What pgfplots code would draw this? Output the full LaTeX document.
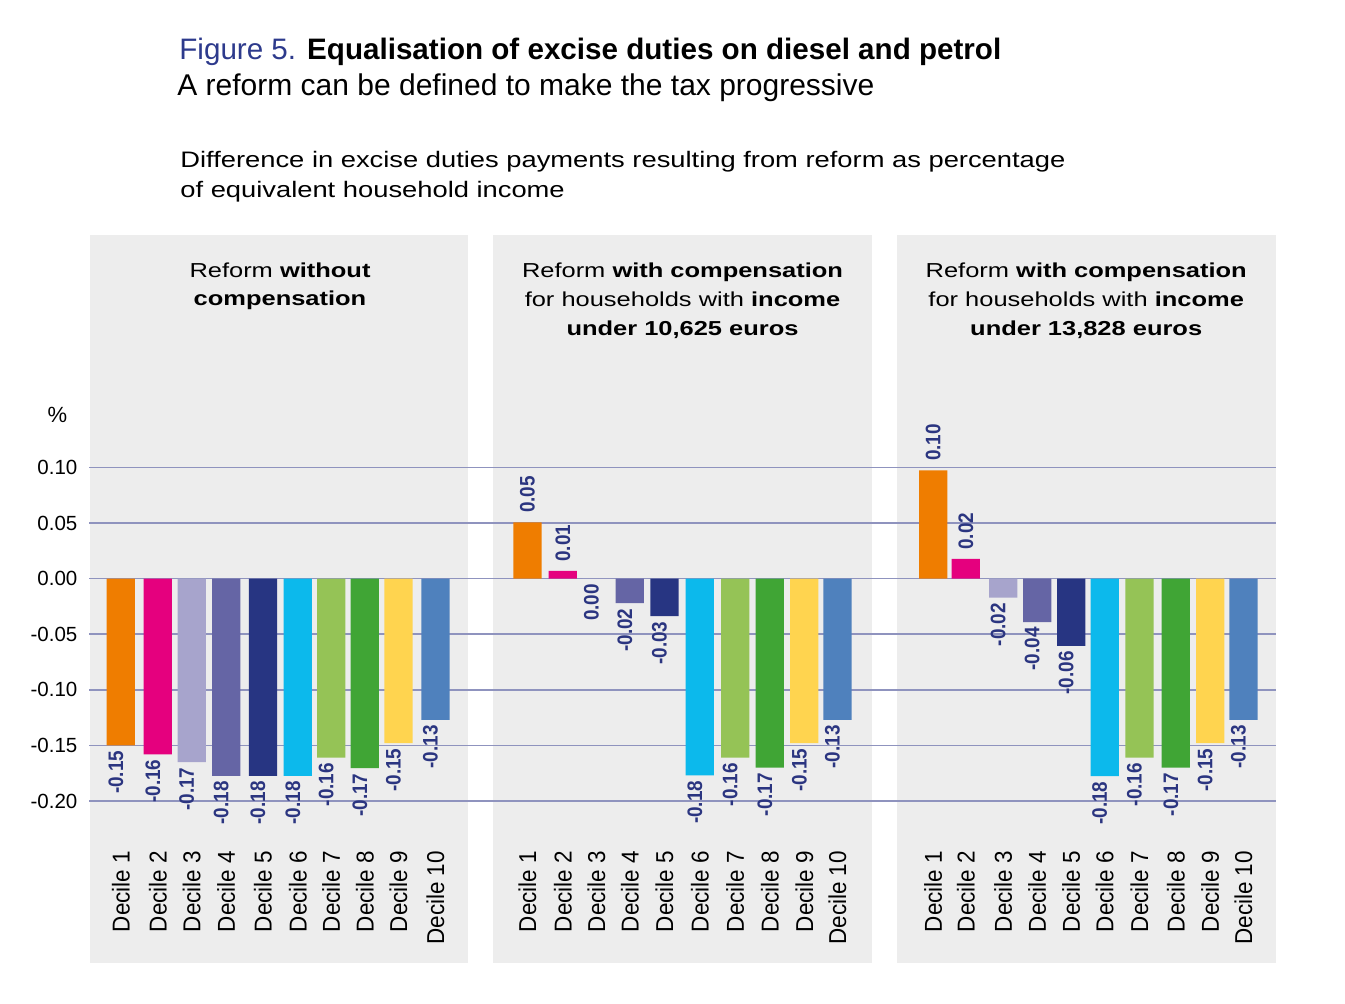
\documentclass[border=0pt]{standalone}
\usepackage{fontspec}
\setmainfont{Liberation Sans}
\newfontfamily\descfont[FakeStretch=1.22]{Liberation Sans}
\newfontfamily\panelfont[FakeStretch=1.26]{Liberation Sans}
\newfontfamily\decfont[FakeStretch=0.92]{Liberation Sans}
\newfontfamily\valfont[FakeStretch=0.9]{Liberation Sans}
\usepackage{pgfplots}
\pgfplotsset{compat=1.18}
\definecolor{panelgrey}{HTML}{EDEDED}
\definecolor{gridcol}{HTML}{8F93BE}
\definecolor{figblue}{HTML}{2D3A8C}
\definecolor{labblue}{HTML}{2B3580}
\definecolor{cA}{HTML}{EF7D00}
\definecolor{cB}{HTML}{E5007E}
\definecolor{cC}{HTML}{A7A4CC}
\definecolor{cD}{HTML}{6565A5}
\definecolor{cE}{HTML}{273582}
\definecolor{cF}{HTML}{0CB9EC}
\definecolor{cG}{HTML}{95C356}
\definecolor{cH}{HTML}{40A535}
\definecolor{cI}{HTML}{FFD44F}
\definecolor{cJ}{HTML}{4F81BD}
\begin{document}
\begin{tikzpicture}
\begin{scope}[x=0.5pt,y=-0.5pt]
\path[use as bounding box] (0,0) rectangle (1345,1004);
\fill[panelgrey] (90,235) rectangle (467.7,963);
\fill[panelgrey] (493.3,235) rectangle (871.7,963);
\fill[panelgrey] (896.7,235) rectangle (1275.7,963);
\coordinate (sw) at (89,801);
\end{scope}
\begin{axis}[
  at={(sw)}, anchor=south west,
  x=0.5pt, y=555.85pt,
  xmin=89, xmax=1276, ymin=-0.2, ymax=0.1,
  enlargelimits=false, clip=false,
  axis line style={draw=none},
  major tick length=0pt,
  ybar, bar width=28.3, bar shift=0pt,
  ymajorgrids, grid style={gridcol, line width=0.75pt},
  ytick={-0.2,-0.15,-0.1,-0.05,0,0.05,0.1},
  yticklabel style={font=\fontsize{10.25}{12}\selectfont, xshift=-2.3pt},
  /pgf/number format/.cd, fixed, fixed zerofill, precision=2, assume math mode=true,
  /pgfplots/.cd,
  xtick={120.8,157.8,191.7,226.2,263,297.8,331.2,364.8,398.5,435.5,
         527.5,562.8,596.5,629.8,664.5,699.8,735.2,769.8,804.3,837.5,
         933.2,965.8,1003.2,1037.2,1071.2,1104.7,1139.5,1175.8,1210.2,1243.5},
  xticklabels={Decile 1,Decile 2,Decile 3,Decile 4,Decile 5,Decile 6,Decile 7,Decile 8,Decile 9,Decile 10,
               Decile 1,Decile 2,Decile 3,Decile 4,Decile 5,Decile 6,Decile 7,Decile 8,Decile 9,Decile 10,
               Decile 1,Decile 2,Decile 3,Decile 4,Decile 5,Decile 6,Decile 7,Decile 8,Decile 9,Decile 10},
  xticklabel style={yshift=-21.5pt, rotate=90, anchor=east, font=\decfont\fontsize{12.2}{14}\selectfont},
  point meta=explicit symbolic,
  nodes near coords,
  visualization depends on={\thisrow{y} \as \yv},
  every node near coord/.append style={rotate=90, inner sep=0pt,
     font=\valfont\bfseries\fontsize{10.5}{12}\selectfont, text=labblue,
     anchor=\ifdim\yv pt>0pt west\else east\fi,
     xshift=\ifdim\yv pt>0pt 4.5pt\else -2.5pt\fi,
     yshift=\ifdim\yv pt>0pt 0pt\else 2.5pt\fi},
]
\addplot[fill=cA, draw=none] table[x=x,y=y,meta=lab] {
x y lab
120.8 -0.150 -0.15
527.5 0.0507 0.05
933.2 0.0975 0.10
};
\addplot[fill=cB, draw=none] table[x=x,y=y,meta=lab] {
x y lab
157.8 -0.158 -0.16
562.8 0.0069 0.01
965.8 0.0177 0.02
};
\addplot[fill=cC, draw=none] table[x=x,y=y,meta=lab] {
x y lab
191.7 -0.165 -0.17
596.5 0 0.00
1003.2 -0.0171 -0.02
};
\addplot[fill=cD, draw=none] table[x=x,y=y,meta=lab] {
x y lab
226.2 -0.1775 -0.18
629.8 -0.0221 -0.02
1037.2 -0.039 -0.04
};
\addplot[fill=cE, draw=none] table[x=x,y=y,meta=lab] {
x y lab
263 -0.1775 -0.18
664.5 -0.0338 -0.03
1071.2 -0.0605 -0.06
};
\addplot[fill=cF, draw=none] table[x=x,y=y,meta=lab] {
x y lab
297.8 -0.1775 -0.18
699.8 -0.177 -0.18
1104.7 -0.1777 -0.18
};
\addplot[fill=cG, draw=none] table[x=x,y=y,meta=lab] {
x y lab
331.2 -0.161 -0.16
735.2 -0.161 -0.16
1139.5 -0.161 -0.16
};
\addplot[fill=cH, draw=none] table[x=x,y=y,meta=lab] {
x y lab
364.8 -0.1705 -0.17
769.8 -0.170 -0.17
1175.8 -0.170 -0.17
};
\addplot[fill=cI, draw=none] table[x=x,y=y,meta=lab] {
x y lab
398.5 -0.148 -0.15
804.3 -0.148 -0.15
1210.2 -0.148 -0.15
};
\addplot[fill=cJ, draw=none] table[x=x,y=y,meta=lab] {
x y lab
435.5 -0.127 -0.13
837.5 -0.127 -0.13
1243.5 -0.127 -0.13
};
\end{axis}
\begin{scope}[x=0.5pt,y=-0.5pt]
\node[anchor=base west, inner sep=0pt, font=\fontsize{14.8}{18}\selectfont] at (179,60)
  {\textcolor{figblue}{Figure 5.} \textbf{Equalisation of excise duties on diesel and petrol}};
\node[anchor=base west, inner sep=0pt, font=\fontsize{15}{18}\selectfont] at (177,96)
  {A reform can be defined to make the tax progressive};
\node[anchor=base west, inner sep=0pt, font=\descfont\fontsize{11.2}{15}\selectfont] at (180,168)
  {Difference in excise duties payments resulting from reform as percentage};
\node[anchor=base west, inner sep=0pt, font=\descfont\fontsize{11.2}{15}\selectfont] at (180,198)
  {of equivalent household income};
\node[font=\fontsize{11}{13}\selectfont] at (57.5,415) {\%};
\begin{scope}[every node/.style={anchor=base, inner sep=0pt, font=\panelfont\fontsize{10.1}{14.5}\selectfont}]
\node at (280,278) {Reform \textbf{without}};
\node at (280,306) {\textbf{compensation}};
\node at (682.5,278) {Reform \textbf{with compensation}};
\node at (682.5,307) {for households with \textbf{income}};
\node at (682.5,336) {\textbf{under 10,625 euros}};
\node at (1086.2,278) {Reform \textbf{with compensation}};
\node at (1086.2,307) {for households with \textbf{income}};
\node at (1086.2,336) {\textbf{under 13,828 euros}};
\end{scope}
\end{scope}
\end{tikzpicture}
\end{document}
